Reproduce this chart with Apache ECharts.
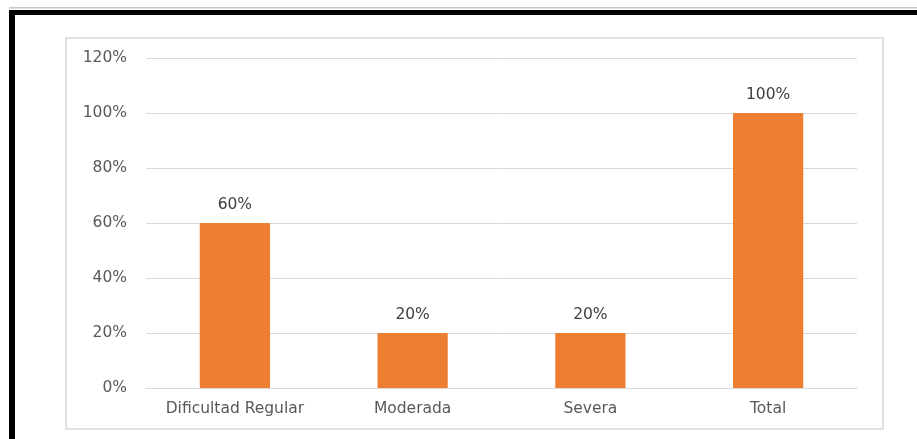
<!DOCTYPE html>
<html><head><meta charset="utf-8">
<script src="https://cdn.jsdelivr.net/npm/echarts@6/dist/echarts.min.js"></script>
<style>html,body{margin:0;padding:0;background:#fff}#c{width:917px;height:439px}</style>
</head><body><div id="c"></div>
<script>
const categories = ['Dificultad Regular', 'Moderada', 'Severa', 'Total'];
const values = [60, 20, 20, 100];
const yTicks = [0, 20, 40, 60, 80, 100, 120];

const chart = echarts.init(document.getElementById('c'), null, {renderer: 'canvas'});
const font = 'DejaVu Sans';
chart.setOption({
  animation: false,
  graphic: [
    {type: 'rect', shape: {x: 9, y: 7, width: 908, height: 1.5}, style: {fill: '#c8c8c8'}, silent: true},
    {type: 'rect', shape: {x: 9, y: 10, width: 908, height: 5}, style: {fill: '#000'}, silent: true},
    {type: 'rect', shape: {x: 9, y: 10, width: 6, height: 429}, style: {fill: '#000'}, silent: true},
    {type: 'rect', shape: {x: 66, y: 38, width: 817, height: 391}, style: {fill: 'none', stroke: '#d9d9d9', lineWidth: 1.5}, silent: true}
  ],
  grid: {left: 146, right: 60, top: 58, bottom: 51, containLabel: false},
  xAxis: {
    type: 'category', data: categories,
    axisLine: {lineStyle: {color: '#d9d9d9'}},
    axisTick: {show: false},
    axisLabel: {interval: 0, hideOverlap: false, color: '#595959', fontFamily: font, fontSize: 15.5, margin: 13}
  },
  yAxis: {
    type: 'value', min: 0, max: yTicks[yTicks.length - 1], interval: 20,
    axisLine: {show: false}, axisTick: {show: false},
    splitLine: {lineStyle: {color: '#d9d9d9'}},
    axisLabel: {color: '#595959', fontFamily: font, fontSize: 15.5, margin: 19, formatter: v => v + '%'}
  },
  series: [{
    type: 'bar', data: values, barWidth: '39.5%',
    itemStyle: {color: '#ed7d31'},
    label: {show: true, position: 'top', distance: 10, color: '#404040', fontFamily: font, fontSize: 15.5, formatter: p => p.value + '%'}
  }]
});
</script></body></html>
